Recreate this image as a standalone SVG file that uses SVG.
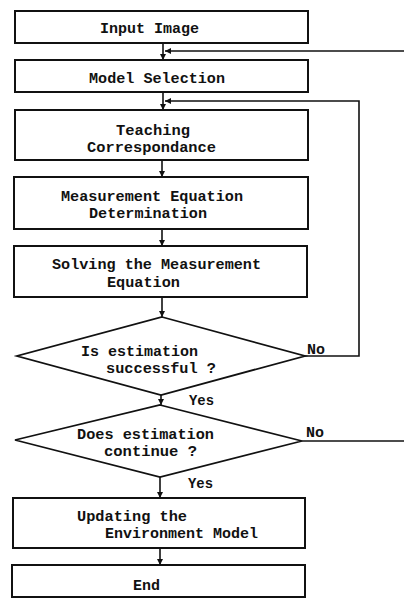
<svg xmlns="http://www.w3.org/2000/svg" width="404" height="598" viewBox="0 0 404 598">
<style>
.box{fill:#fff;stroke:#111;stroke-width:2}
.dia{fill:#fff;stroke:#111;stroke-width:1.8}
.ln{fill:none;stroke:#111;stroke-width:1.6}
.t{font-family:"Liberation Mono",monospace;font-size:15px;font-weight:bold;fill:#111}
</style>
<defs>
<marker id="ah" viewBox="0 0 10 10" refX="10" refY="5" markerWidth="7" markerHeight="6" orient="auto" markerUnits="userSpaceOnUse"><path d="M0,0 L10,5 L0,10 z" fill="#111"/></marker>
</defs>
<rect width="404" height="598" fill="#fff"/>
<g id="connectors">
<path class="ln" d="M163,43 V60" marker-end="url(#ah)"/>
<path class="ln" d="M404,51 H165" marker-end="url(#ah)"/>
<path class="ln" d="M163,92 V110" marker-end="url(#ah)"/>
<path class="ln" d="M305,356 H359 V101 H165" marker-end="url(#ah)"/>
<path class="ln" d="M162,160 V177" marker-end="url(#ah)"/>
<path class="ln" d="M162,229 V246" marker-end="url(#ah)"/>
<path class="ln" d="M162,297 V317" marker-end="url(#ah)"/>
<path class="ln" d="M161,395 V405" marker-end="url(#ah)"/>
<path class="ln" d="M302,441 H404"/>
<path class="ln" d="M160,477 V498" marker-end="url(#ah)"/>
<path class="ln" d="M160,548 V565" marker-end="url(#ah)"/>
<text class="t" x="307" y="354" textLength="18" lengthAdjust="spacingAndGlyphs">No</text>
<text class="t" x="306" y="437" textLength="18" lengthAdjust="spacingAndGlyphs">No</text>
<text class="t" x="189" y="405" textLength="25" lengthAdjust="spacingAndGlyphs">Yes</text>
<text class="t" x="188" y="488" textLength="25" lengthAdjust="spacingAndGlyphs">Yes</text>
</g>
<g id="n1">
<rect class="box" x="15" y="11" width="293" height="32"/>
<text class="t" x="100" y="33" textLength="99" lengthAdjust="spacingAndGlyphs">Input Image</text>
</g>
<g id="n2">
<rect class="box" x="15" y="60" width="293" height="32"/>
<text class="t" x="89" y="83" textLength="136" lengthAdjust="spacingAndGlyphs">Model Selection</text>
</g>
<g id="n3">
<rect class="box" x="15" y="110" width="293" height="50"/>
<text class="t" x="116" y="135" textLength="74" lengthAdjust="spacingAndGlyphs">Teaching</text>
<text class="t" x="87" y="152" textLength="129" lengthAdjust="spacingAndGlyphs">Correspondance</text>
</g>
<g id="n4">
<rect class="box" x="14" y="177" width="294" height="52"/>
<text class="t" x="61" y="201" textLength="182" lengthAdjust="spacingAndGlyphs">Measurement Equation</text>
<text class="t" x="89" y="218" textLength="118" lengthAdjust="spacingAndGlyphs">Determination</text>
</g>
<g id="n5">
<rect class="box" x="14" y="246" width="293" height="51"/>
<text class="t" x="52" y="269" textLength="209" lengthAdjust="spacingAndGlyphs">Solving the Measurement</text>
<text class="t" x="107" y="287" textLength="73" lengthAdjust="spacingAndGlyphs">Equation</text>
</g>
<g id="n6">
<polygon class="dia" points="162,317 305,356 161,395 17,356"/>
<text class="t" x="81" y="356" textLength="117" lengthAdjust="spacingAndGlyphs">Is estimation</text>
<text class="t" x="106" y="373" textLength="110" lengthAdjust="spacingAndGlyphs">successful ?</text>
</g>
<g id="n7">
<polygon class="dia" points="160,405 302,441 160,477 15,440"/>
<text class="t" x="77" y="439" textLength="137" lengthAdjust="spacingAndGlyphs">Does estimation</text>
<text class="t" x="104" y="456" textLength="93" lengthAdjust="spacingAndGlyphs">continue ?</text>
</g>
<g id="n8">
<rect class="box" x="13" y="498" width="292" height="50"/>
<text class="t" x="77" y="521" textLength="110" lengthAdjust="spacingAndGlyphs">Updating the</text>
<text class="t" x="105" y="538" textLength="153" lengthAdjust="spacingAndGlyphs">Environment Model</text>
</g>
<g id="n9">
<rect class="box" x="12" y="565" width="293" height="32"/>
<text class="t" x="133" y="590" textLength="27" lengthAdjust="spacingAndGlyphs">End</text>
</g>
</svg>
